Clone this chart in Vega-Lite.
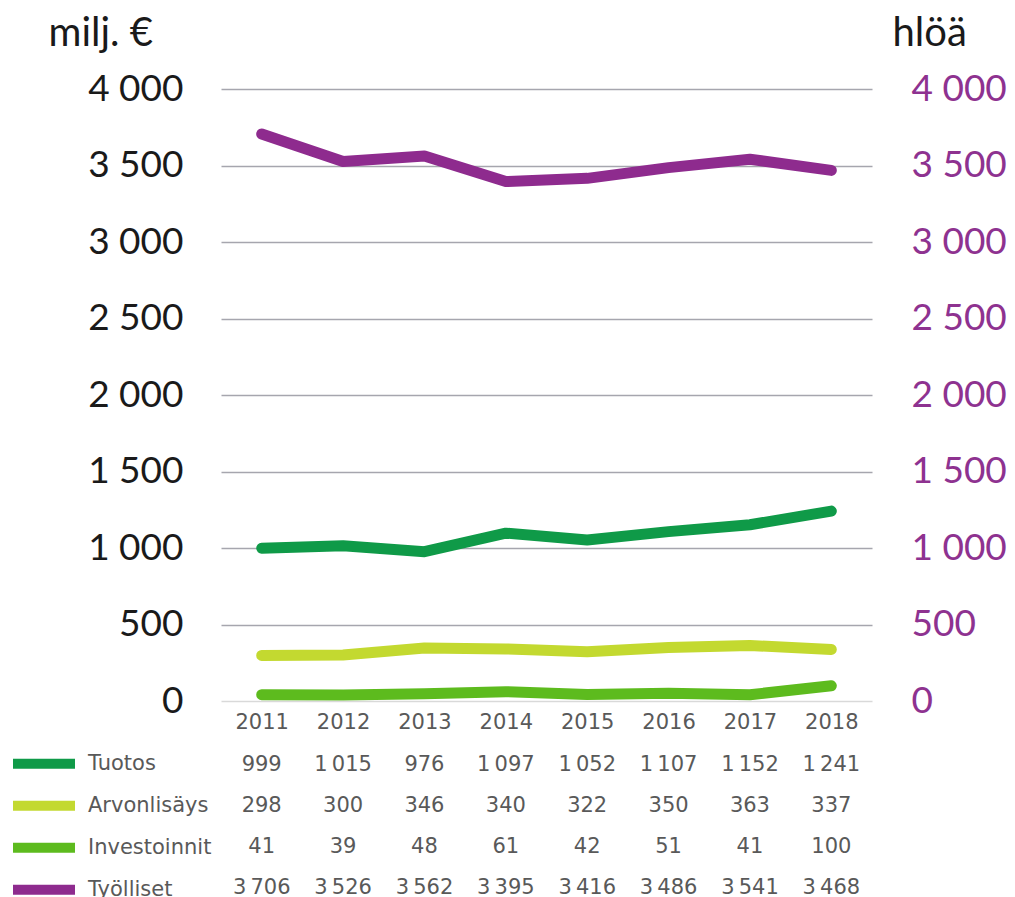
{
  "$schema": "https://vega.github.io/schema/vega-lite/v6.json",
  "autosize": {"type": "pad"},
  "padding": {"left": 8, "top": 13, "right": 0, "bottom": 0},
  "background": "white",
  "config": {
    "view": {"stroke": null},
    "font": "DejaVu Sans",
    "locale": {"number": {"decimal": ",", "thousands": "\u2009", "grouping": [3], "currency": ["", " €"]}}
  },
  "data": {"values": [
    {"year": "2011", "series": "Tuotos", "value": 999},
    {"year": "2012", "series": "Tuotos", "value": 1015},
    {"year": "2013", "series": "Tuotos", "value": 976},
    {"year": "2014", "series": "Tuotos", "value": 1097},
    {"year": "2015", "series": "Tuotos", "value": 1052},
    {"year": "2016", "series": "Tuotos", "value": 1107},
    {"year": "2017", "series": "Tuotos", "value": 1152},
    {"year": "2018", "series": "Tuotos", "value": 1241},
    {"year": "2011", "series": "Arvonlisäys", "value": 298},
    {"year": "2012", "series": "Arvonlisäys", "value": 300},
    {"year": "2013", "series": "Arvonlisäys", "value": 346},
    {"year": "2014", "series": "Arvonlisäys", "value": 340},
    {"year": "2015", "series": "Arvonlisäys", "value": 322},
    {"year": "2016", "series": "Arvonlisäys", "value": 350},
    {"year": "2017", "series": "Arvonlisäys", "value": 363},
    {"year": "2018", "series": "Arvonlisäys", "value": 337},
    {"year": "2011", "series": "Investoinnit", "value": 41},
    {"year": "2012", "series": "Investoinnit", "value": 39},
    {"year": "2013", "series": "Investoinnit", "value": 48},
    {"year": "2014", "series": "Investoinnit", "value": 61},
    {"year": "2015", "series": "Investoinnit", "value": 42},
    {"year": "2016", "series": "Investoinnit", "value": 51},
    {"year": "2017", "series": "Investoinnit", "value": 41},
    {"year": "2018", "series": "Investoinnit", "value": 100},
    {"year": "2011", "series": "Työlliset", "value": 3706},
    {"year": "2012", "series": "Työlliset", "value": 3526},
    {"year": "2013", "series": "Työlliset", "value": 3562},
    {"year": "2014", "series": "Työlliset", "value": 3395},
    {"year": "2015", "series": "Työlliset", "value": 3416},
    {"year": "2016", "series": "Työlliset", "value": 3486},
    {"year": "2017", "series": "Työlliset", "value": 3541},
    {"year": "2018", "series": "Työlliset", "value": 3468}
  ]},
  "bounds": "flush",
  "spacing": 43,
  "vconcat": [
    {
      "width": 651,
      "height": 612,
      "encoding": {
        "x": {"field": "year", "type": "ordinal", "scale": {"type": "point", "padding": 0.5},
          "axis": {"orient": "bottom", "title": null, "domain": false, "ticks": false, "tickSize": 0, "labelPadding": 10, "labelFont": "DejaVu Sans", "labelFontSize": 21, "labelColor": "#595959", "labelAngle": 0, "grid": false}},
        "color": {"field": "series", "type": "nominal",
          "scale": {"domain": ["Tuotos", "Arvonlisäys", "Investoinnit", "Työlliset"], "range": ["#0f9a48", "#c3d930", "#5dbb1e", "#8e2b8e"]},
          "legend": {"orient": "none", "legendX": -213, "legendY": 654, "title": null, "padding": 0, "symbolType": "stroke", "symbolSize": 3844, "symbolStrokeWidth": 10, "labelOffset": 8, "labelFont": "DejaVu Sans", "labelFontSize": 21, "labelColor": "#595959", "rowPadding": 0, "clipHeight": 41.3}}
      },
      "layer": [
        {
          "transform": [{"filter": "datum.series !== 'Työlliset'"}],
          "mark": {"type": "line", "strokeWidth": 11, "strokeCap": "round", "strokeJoin": "round", "interpolate": "linear"},
          "encoding": {
            "y": {"field": "value", "type": "quantitative", "scale": {"domain": [0, 4000]},
              "axis": {"orient": "left", "values": [0, 500, 1000, 1500, 2000, 2500, 3000, 3500, 4000], "grid": true,
                "gridColor": {"condition": {"test": "datum.value === 0", "value": "#d9d9d9"}, "value": "#a6a6ae"},
                "gridWidth": 1.5, "domain": false, "ticks": false, "tickSize": 0, "labelPadding": 38,
                "labelFont": "Lato", "labelFontSize": 37, "labelColor": "#1a1a1a",
                "labelExpr": "datum.value >= 1000 ? floor(datum.value / 1000) + ' ' + slice(format(datum.value % 1000 + 1000, 'd'), 1) : format(datum.value, 'd')",
                "title": "milj. €", "titleFont": "Lato", "titleFontSize": 40, "titleFontWeight": "normal", "titleColor": "#1a1a1a",
                "titleAngle": 0, "titleAlign": "left", "titleBaseline": "alphabetic", "titleX": -173, "titleY": -44}}
          }
        },
        {
          "transform": [{"filter": "datum.series === 'Työlliset'"}],
          "mark": {"type": "line", "strokeWidth": 11, "strokeCap": "round", "strokeJoin": "round", "interpolate": "linear"},
          "encoding": {
            "y": {"field": "value", "type": "quantitative", "scale": {"domain": [0, 4000]},
              "axis": {"orient": "right", "values": [0, 500, 1000, 1500, 2000, 2500, 3000, 3500, 4000], "grid": false,
                "domain": false, "ticks": false, "tickSize": 0, "labelPadding": 39,
                "labelFont": "Lato", "labelFontSize": 37, "labelColor": "#8e3290",
                "labelExpr": "datum.value >= 1000 ? floor(datum.value / 1000) + ' ' + slice(format(datum.value % 1000 + 1000, 'd'), 1) : format(datum.value, 'd')",
                "title": "hlöä", "titleFont": "Lato", "titleFontSize": 40, "titleFontWeight": "normal", "titleColor": "#1a1a1a",
                "titleAngle": 0, "titleAlign": "left", "titleBaseline": "alphabetic", "titleX": 20, "titleY": -44}}
          }
        }
      ],
      "resolve": {"scale": {"y": "independent"}}
    },
    {
      "width": 651,
      "height": 165,
      "mark": {"type": "text", "font": "DejaVu Sans", "fontSize": 21, "color": "#595959", "align": "center", "baseline": "middle"},
      "encoding": {
        "x": {"field": "year", "type": "ordinal", "scale": {"type": "point", "padding": 0.5}, "axis": null},
        "y": {"field": "series", "type": "nominal", "scale": {"type": "band", "domain": ["Tuotos", "Arvonlisäys", "Investoinnit", "Työlliset"], "paddingInner": 0, "paddingOuter": 0}, "axis": null},
        "text": {"field": "value", "type": "quantitative", "format": ","}
      }
    }
  ]
}
